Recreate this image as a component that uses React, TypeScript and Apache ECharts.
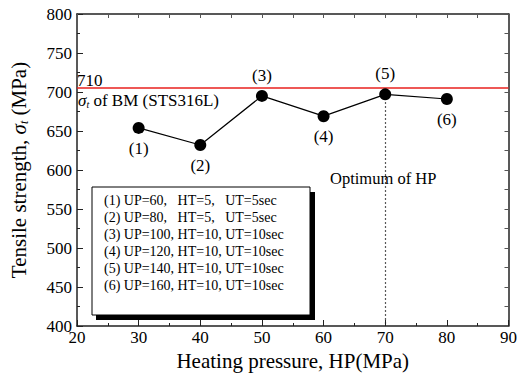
import React, { useEffect, useRef } from "react";
import * as echarts from "echarts";

const hpValues = [30, 40, 50, 60, 70, 80];
const strengthValues = [654, 632, 695, 669, 697, 691];
const pointLabels = ["(1)", "(2)", "(3)", "(4)", "(5)", "(6)"];
const labelPositions = ["bottom", "bottom", "top", "bottom", "top", "bottom"];
const bmStrengthLine = 705;
const bmStrengthText = "710";
const optimumHP = 70;
const legendLines = [
  "(1) UP=60,   HT=5,   UT=5sec",
  "(2) UP=80,   HT=5,   UT=5sec",
  "(3) UP=100, HT=10, UT=10sec",
  "(4) UP=120, HT=10, UT=10sec",
  "(5) UP=140, HT=10, UT=10sec",
  "(6) UP=160, HT=10, UT=10sec",
];

const FONT = "Liberation Serif";

export default function App() {
  const ref = useRef<HTMLDivElement>(null);
  useEffect(() => {
    document.body.style.margin = "0";
    if (!ref.current) return;
    const chart = echarts.init(ref.current, null, { renderer: "svg" });
    const axisCommon = {
      axisLine: { show: true, lineStyle: { color: "#222", width: 1.5 } },
      axisTick: { show: true, inside: true, length: 6, lineStyle: { color: "#222", width: 1 } },
      minorTick: { show: true, splitNumber: 2, length: 3, lineStyle: { color: "#222" } },
      splitLine: { show: false },
    };
    const mirrorTicks = {
      axisTick: { show: true, inside: true, length: 4, lineStyle: { color: "#555", width: 1 } },
      minorTick: { show: true, splitNumber: 2, length: 4, lineStyle: { color: "#555", width: 1 } },
    };
    const txt = (text: string, x: number, y: number, size: number) => ({
      type: "text",
      x,
      y,
      style: { text, fontFamily: FONT, fontSize: size, fill: "#000", verticalAlign: "middle" },
      z: 12,
    });
    const legendGraphics: any[] = [
      { type: "rect", shape: { x: 96, y: 192, width: 219, height: 128 }, style: { fill: "#000" }, z: 10 },
      { type: "rect", shape: { x: 92, y: 187, width: 218, height: 128 }, style: { fill: "#fff", stroke: "#000", lineWidth: 1 }, z: 11 },
      ...legendLines.map((t, i) => txt(t, 104, 200 + i * 17, 14)),
      txt(bmStrengthText, 77, 80, 17),
      {
        type: "text",
        x: 78,
        y: 100,
        style: {
          text: "{i|σ}{s|t}{n| of BM (STS316L)}",
          fill: "#000",
          verticalAlign: "middle",
          rich: {
            i: { fontStyle: "italic", fontFamily: FONT, fontSize: 17, fill: "#000" },
            s: { fontStyle: "italic", fontFamily: FONT, fontSize: 10, padding: [9, 0, 0, 0], fill: "#000" },
            n: { fontFamily: FONT, fontSize: 17, fill: "#000" },
          },
        },
        z: 12,
      },
      txt("Optimum of HP", 330, 178, 16.5),
    ];
    chart.setOption({
      animation: false,
      backgroundColor: "#fff",
      textStyle: { fontFamily: FONT },
      grid: { left: 68, right: 9, top: 14, bottom: 52 },
      xAxis: [
        {
          type: "value",
          min: 20,
          max: 90,
          interval: 10,
          name: "Heating pressure, HP(MPa)",
          nameLocation: "middle",
          nameGap: 20,
          nameTextStyle: { fontFamily: FONT, fontSize: 21, color: "#000" },
          axisLabel: { fontFamily: FONT, fontSize: 17, color: "#000", margin: 3 },
          ...axisCommon,
        },
        {
          type: "value",
          position: "top",
          min: 20,
          max: 90,
          interval: 10,
          axisLabel: { show: false },
          ...axisCommon,
          ...mirrorTicks,
        },
      ],
      yAxis: [
        {
          type: "value",
          min: 400,
          max: 800,
          interval: 50,
          name: "{n|Tensile strength, }{i|σ}{s|t}{n| (MPa)}",
          nameLocation: "middle",
          nameGap: 47,
          nameTextStyle: {
            fontFamily: FONT,
            fontSize: 21,
            color: "#000",
            rich: {
              n: { fontFamily: FONT, fontSize: 21, color: "#000" },
              i: { fontStyle: "italic", fontFamily: FONT, fontSize: 21, color: "#000" },
              s: { fontStyle: "italic", fontFamily: FONT, fontSize: 12, padding: [11, 0, 0, 0], color: "#000" },
            },
          },
          axisLabel: { fontFamily: FONT, fontSize: 17, color: "#000", margin: 5 },
          ...axisCommon,
        },
        {
          type: "value",
          position: "right",
          min: 400,
          max: 800,
          interval: 50,
          axisLabel: { show: false },
          ...axisCommon,
          ...mirrorTicks,
        },
      ],
      series: [
        {
          type: "line",
          xAxisIndex: 0,
          yAxisIndex: 0,
          data: hpValues.map((x, i) => ({
            value: [x, strengthValues[i]],
            label: { show: true, formatter: pointLabels[i], position: labelPositions[i] },
          })),
          symbol: "circle",
          symbolSize: 12,
          itemStyle: { color: "#000" },
          lineStyle: { color: "#000", width: 1.2 },
          label: { fontFamily: FONT, fontSize: 17, color: "#000", distance: 6 },
          z: 5,
          markLine: {
            silent: true,
            symbol: ["none", "none"],
            label: { show: false },
            data: [
              { yAxis: bmStrengthLine, lineStyle: { color: "#e8201e", width: 1.5, type: "solid" } },
              [
                { coord: [optimumHP, strengthValues[hpValues.indexOf(optimumHP)]], lineStyle: { color: "#222", width: 1.2, type: [1.5, 2.5] } },
                { coord: [optimumHP, 400] },
              ],
            ],
          },
        },
      ],
      graphic: legendGraphics,
    });
    return () => chart.dispose();
  }, []);
  return <div ref={ref} style={{ width: 520, height: 378 }} />;
}
